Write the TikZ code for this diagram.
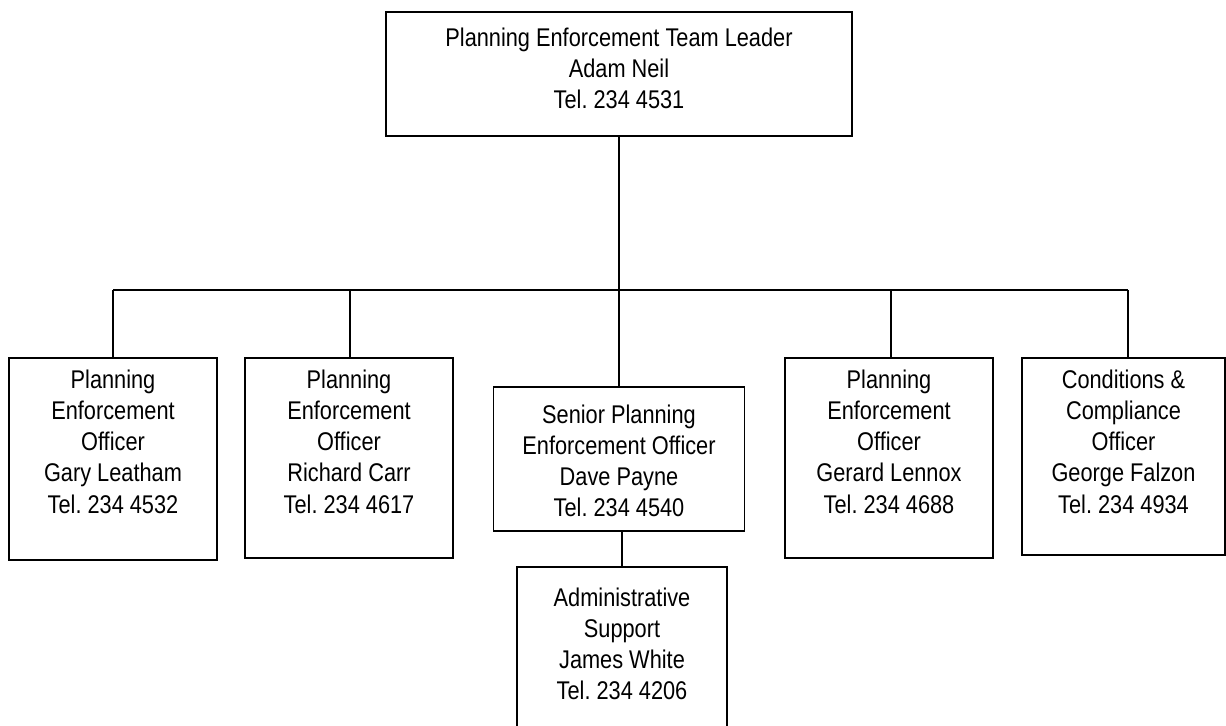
\documentclass[tikz,border=0pt]{standalone}
\usepackage{fontspec}
\setmainfont{Liberation Sans}[FakeStretch=0.85]
\usetikzlibrary{positioning}
\frenchspacing

\tikzset{
  post/.style={draw=black, line width=0.6pt, rectangle, inner sep=0pt},
  posttext/.style={align=center, inner sep=0pt, font=\fontsize{12.8pt}{15.6pt}\selectfont},
  link/.style={draw=black, line width=0.6pt}
}

\begin{document}
\begin{tikzpicture}[x=0.5pt, y=-0.5pt]
	\clip (0,0) rectangle (1226,725);
	% boxes
	\node [post, minimum width=233pt, minimum height=62pt] (lead) at (619,74) {};
	\node [post, minimum width=104pt, minimum height=101pt] (gary) at (113,459) {};
	\node [post, minimum width=104pt, minimum height=100pt] (richard) at (349,458) {};
	\node [post, minimum width=125.5pt, minimum height=72pt] (dave) at (619,459) {};
	\node [post, minimum width=104pt, minimum height=100pt] (gerard) at (889,458) {};
	\node [post, minimum width=101.5pt, minimum height=98.5pt] (george) at (1123.5,456.5) {};
	\node [post, minimum width=105pt, minimum height=90pt] (james) at (622,657) {};

	% texts
	\node [posttext, below=8pt of lead.north] (leadt) {Planning Enforcement Team Leader\\Adam Neil\\Tel. 234 4531};
	\node [posttext, below=6pt of gary.north] (garyt) {Planning\\Enforcement\\Officer\\Gary Leatham\\Tel. 234 4532};
	\node [posttext, below=6pt of richard.north] (richardt) {Planning\\Enforcement\\Officer\\Richard Carr\\Tel. 234 4617};
	\node [posttext, below=9pt of dave.north] (davet) {Senior Planning\\Enforcement Officer\\Dave Payne\\Tel. 234 4540};
	\node [posttext, below=6pt of gerard.north] (gerardt) {Planning\\Enforcement\\Officer\\Gerard Lennox\\Tel. 234 4688};
	\node [posttext, below=6pt of george.north] (georget) {Conditions \&\\Compliance\\Officer\\George Falzon\\Tel. 234 4934};
	\node [posttext, below=10.5pt of james.north] (jamest) {Administrative\\Support\\James White\\Tel. 234 4206};

	% connectors
	\coordinate (busL) at (113,290);
	\coordinate (busR) at (1128,290);
	\draw [link] (busL) -- (busR);
	\draw [link] (lead.south) -- (lead.south |- busL);
	\draw [link] (busL) -- (gary.north);
	\draw [link] (350,290) -- (350,0 |- richard.north);
	\draw [link] (dave.north |- busL) -- (dave.north);
	\draw [link] (891,290) -- (891,0 |- gerard.north);
	\draw [link] (busR) -- (busR |- george.north);
	\draw [link] (james.north |- dave.south) -- (james.north);
\end{tikzpicture}
\end{document}
